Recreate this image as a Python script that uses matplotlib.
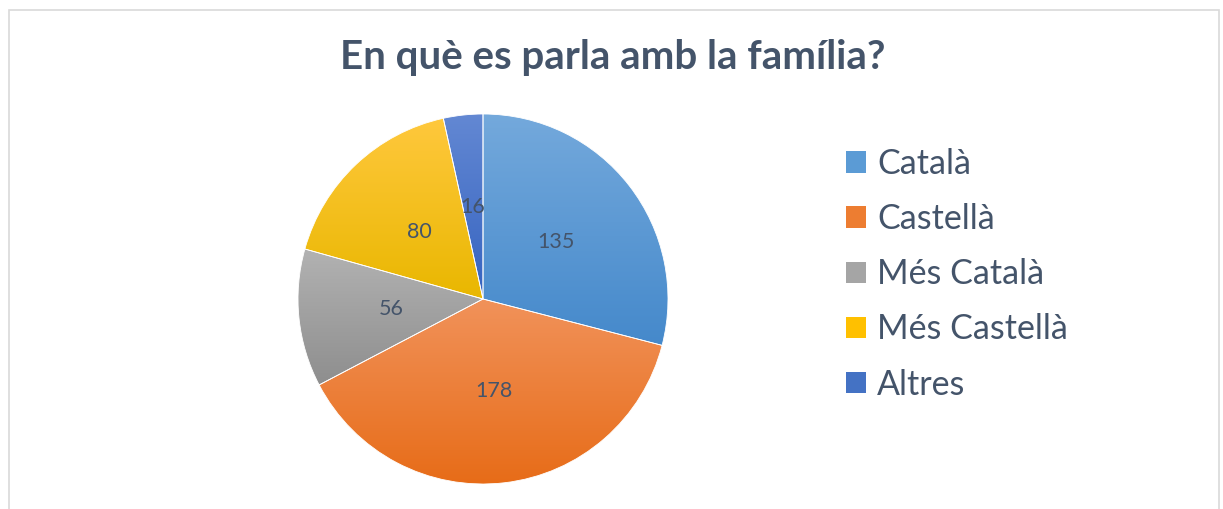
import numpy as np
import matplotlib.pyplot as plt
from matplotlib.colors import LinearSegmentedColormap
from matplotlib.patches import Patch, Rectangle

plt.rcParams['font.family'] = ['Lato', 'DejaVu Sans']

title = "En què es parla amb la família?"
labels = ['Català', 'Castellà', 'Més Català', 'Més Castellà', 'Altres']
values = [135, 178, 56, 80, 16]
# (top, bottom) gradient colours for each slice
tops = ['#74A9DC', '#F1925A', '#B2B2B2', '#FFC83D', '#6388D3']
bottoms = ['#4589CB', '#E76C18', '#8E8E8E', '#E9B700', '#3563C0']
mids = ['#5B9BD5', '#ED7D31', '#A5A5A5', '#FFC000', '#4472C4']
text_color = '#44546A'

fig = plt.figure(figsize=(12.23, 5.09), dpi=100)

# chart area border (bottom edge is cut off in the picture)
fig.patches.append(Rectangle((8.5 / 1223, -0.1), 1210.5 / 1223, 1.1 - 9.5 / 509,
                             transform=fig.transFigure, fill=False,
                             edgecolor='#D9D9D9', linewidth=1.2))

fig.text(0.501, 1 - 58 / 509, title, ha='center', va='center',
         fontsize=29, fontweight='bold', color=text_color)

cx, cy, r = 483, 299, 185
ax = fig.add_axes([(cx - r) / 1223, (509 - cy - r) / 509, 2 * r / 1223, 2 * r / 509])

total = sum(values)
wedges, texts, autotexts = ax.pie(
    values, startangle=90, counterclock=False, radius=1,
    colors=mids, autopct=lambda p: '%d' % round(p * total / 100),
    pctdistance=0.5, wedgeprops=dict(edgecolor='white', linewidth=0.6),
    textprops=dict(color=text_color, fontsize=15.5))

grad = np.linspace(0, 1, 256).reshape(-1, 1)
for w, t, b in zip(wedges, tops, bottoms):
    ext = w.get_path().get_extents()
    cmap = LinearSegmentedColormap.from_list('g', [t, b])
    im = ax.imshow(grad, cmap=cmap, aspect='auto', zorder=0.5,
                   extent=[ext.x0, ext.x1, ext.y1, ext.y0], origin='lower')
    im.set_clip_path(w)
    w.set_facecolor('none')
ax.set_xlim(-1, 1)
ax.set_ylim(-1, 1)
ax.set_aspect('equal')

handles = [Patch(facecolor=c) for c in mids]
leg = fig.legend(handles, labels, loc='upper left',
                 bbox_to_anchor=(846 / 1223, 1 - 148 / 509),
                 frameon=False, fontsize=24.5, borderpad=0, borderaxespad=0,
                 handlelength=0.59, handleheight=0.59, handletextpad=0.32,
                 labelspacing=0.68)
for txt in leg.get_texts():
    txt.set_color(text_color)

plt.savefig('out.png', dpi=100)
